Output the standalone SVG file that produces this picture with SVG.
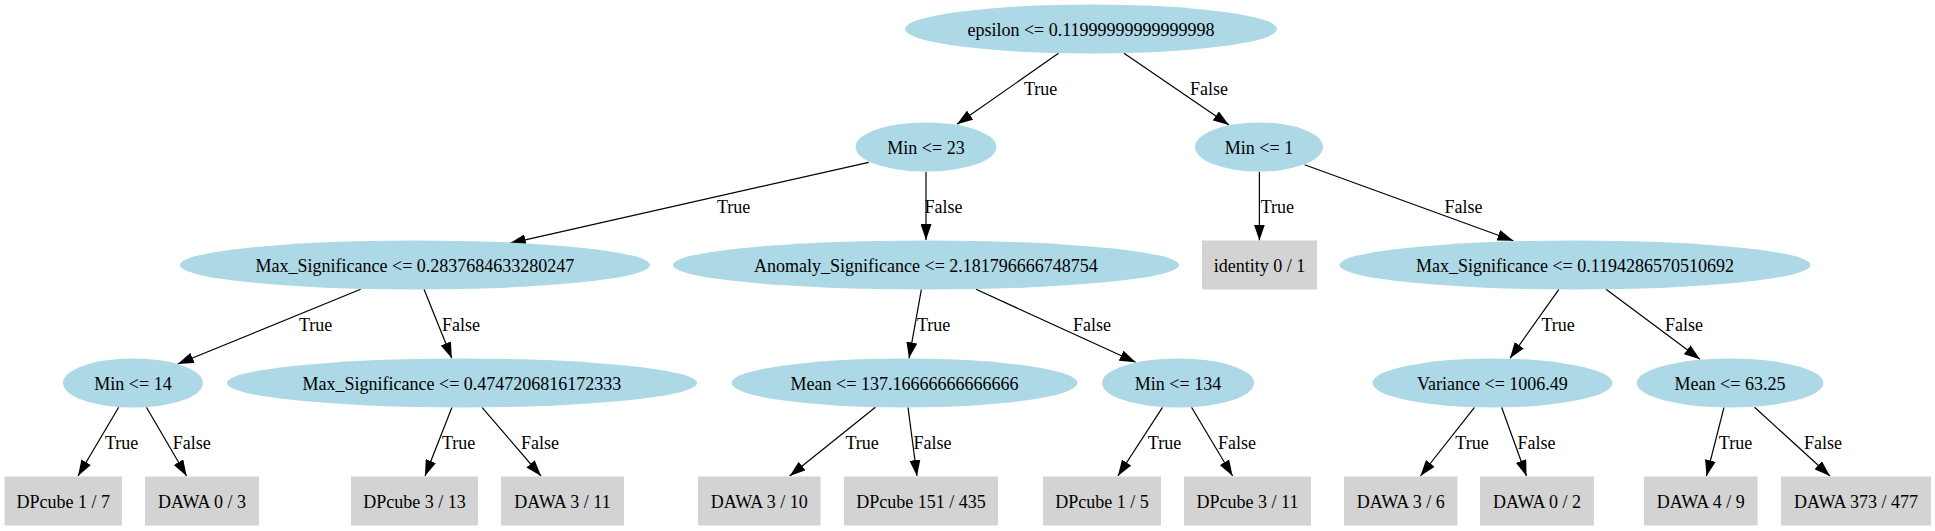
<svg xmlns="http://www.w3.org/2000/svg" width="1935" height="531" viewBox="0 0 1935 531">
<defs>
<marker id="arr" markerUnits="userSpaceOnUse" markerWidth="16" markerHeight="11" refX="16" refY="5.5" orient="auto">
<path d="M0,0 L16,5.5 L0,11 z" fill="#000"/>
</marker>
<style>
.n ellipse{fill:#ADD8E6;}
.n rect{fill:#D3D3D3;}
text{font-family:"Liberation Serif","Times New Roman",serif;font-size:18px;fill:#000;}
.n text{text-anchor:middle;}
#edges line{stroke:#000;stroke-width:1.2;fill:none;marker-end:url(#arr);}
</style>
</defs>
<rect width="1935" height="531" fill="#fff"/>
<g id="edges">
<line x1="1058.5" y1="53.3" x2="957" y2="124.3"/>
<line x1="1124" y1="53.3" x2="1229" y2="125"/>
<line x1="868.7" y1="162.3" x2="509.8" y2="243.3"/>
<line x1="926" y1="171.7" x2="926" y2="240"/>
<line x1="1259.4" y1="171.7" x2="1259.4" y2="240.5"/>
<line x1="1304.6" y1="164.7" x2="1513.4" y2="240.7"/>
<line x1="360.7" y1="289.3" x2="177.7" y2="364"/>
<line x1="424" y1="289.3" x2="451.8" y2="358.3"/>
<line x1="118.7" y1="407.3" x2="78" y2="476"/>
<line x1="146.4" y1="407.3" x2="186.6" y2="476"/>
<line x1="452" y1="407.3" x2="425" y2="476"/>
<line x1="482" y1="407.3" x2="541" y2="476"/>
<line x1="921.4" y1="289.3" x2="909" y2="358.3"/>
<line x1="976" y1="289.3" x2="1135.7" y2="362.3"/>
<line x1="875.4" y1="407.3" x2="789.7" y2="476"/>
<line x1="908" y1="407.3" x2="917" y2="476"/>
<line x1="1162.5" y1="407.3" x2="1117.9" y2="476"/>
<line x1="1191.5" y1="407.3" x2="1232.6" y2="476"/>
<line x1="1558.9" y1="289.3" x2="1510" y2="358.3"/>
<line x1="1606" y1="289.3" x2="1700" y2="359.3"/>
<line x1="1474.5" y1="407.3" x2="1420.4" y2="476"/>
<line x1="1501.6" y1="407.3" x2="1526.5" y2="476"/>
<line x1="1724" y1="407.3" x2="1706.5" y2="476"/>
<line x1="1754.6" y1="407.3" x2="1830" y2="476"/>
<text x="1024" y="95">True</text>
<text x="1190" y="95">False</text>
<text x="717" y="213">True</text>
<text x="924.5" y="213">False</text>
<text x="1260.7" y="213">True</text>
<text x="1444.4" y="213">False</text>
<text x="299" y="330.7">True</text>
<text x="442" y="330.7">False</text>
<text x="105" y="449">True</text>
<text x="172.8" y="449">False</text>
<text x="442" y="449">True</text>
<text x="521" y="449">False</text>
<text x="917" y="330.7">True</text>
<text x="1073" y="330.7">False</text>
<text x="845.5" y="449">True</text>
<text x="913.4" y="449">False</text>
<text x="1147.8" y="449">True</text>
<text x="1218" y="449">False</text>
<text x="1541.4" y="330.7">True</text>
<text x="1665" y="330.7">False</text>
<text x="1455.3" y="449">True</text>
<text x="1517.4" y="449">False</text>
<text x="1718.8" y="449">True</text>
<text x="1804" y="449">False</text>
</g>
<g id="n0" class="n"><ellipse cx="1091" cy="29" rx="186" ry="24.5"/><text x="1091" y="35.5">epsilon &lt;= 0.11999999999999998</text></g>
<g id="n1" class="n"><ellipse cx="926" cy="147" rx="70.5" ry="24.5"/><text x="926" y="153.5">Min &lt;= 23</text></g>
<g id="n2" class="n"><ellipse cx="1259" cy="147" rx="64" ry="24.5"/><text x="1259" y="153.5">Min &lt;= 1</text></g>
<g id="n3" class="n"><ellipse cx="415" cy="265" rx="235" ry="24.5"/><text x="415" y="271.5">Max_Significance &lt;= 0.2837684633280247</text></g>
<g id="n4" class="n"><ellipse cx="926" cy="265" rx="253" ry="24.5"/><text x="926" y="271.5">Anomaly_Significance &lt;= 2.181796666748754</text></g>
<g id="n5" class="n"><rect x="1202" y="240.5" width="115" height="49"/><text x="1259.5" y="271.5">identity 0 / 1</text></g>
<g id="n6" class="n"><ellipse cx="1575" cy="265" rx="235.5" ry="24.5"/><text x="1575" y="271.5">Max_Significance &lt;= 0.1194286570510692</text></g>
<g id="n7" class="n"><ellipse cx="133" cy="383" rx="70" ry="24.5"/><text x="133" y="389.5">Min &lt;= 14</text></g>
<g id="n8" class="n"><ellipse cx="462" cy="383" rx="235" ry="24.5"/><text x="462" y="389.5">Max_Significance &lt;= 0.4747206816172333</text></g>
<g id="n9" class="n"><ellipse cx="904.5" cy="383" rx="173" ry="24.5"/><text x="904.5" y="389.5">Mean &lt;= 137.16666666666666</text></g>
<g id="n10" class="n"><ellipse cx="1178" cy="383" rx="76" ry="24.5"/><text x="1178" y="389.5">Min &lt;= 134</text></g>
<g id="n11" class="n"><ellipse cx="1492.5" cy="383" rx="120" ry="24.5"/><text x="1492.5" y="389.5">Variance &lt;= 1006.49</text></g>
<g id="n12" class="n"><ellipse cx="1730" cy="383" rx="93.3" ry="24.5"/><text x="1730" y="389.5">Mean &lt;= 63.25</text></g>
<g id="n13" class="n"><rect x="4.5" y="476.5" width="117.5" height="49"/><text x="63.2" y="507.5">DPcube 1 / 7</text></g>
<g id="n14" class="n"><rect x="145" y="476.5" width="114" height="49"/><text x="202" y="507.5">DAWA 0 / 3</text></g>
<g id="n15" class="n"><rect x="351" y="476.5" width="127" height="49"/><text x="414.5" y="507.5">DPcube 3 / 13</text></g>
<g id="n16" class="n"><rect x="501" y="476.5" width="123" height="49"/><text x="562.5" y="507.5">DAWA 3 / 11</text></g>
<g id="n17" class="n"><rect x="698" y="476.5" width="122.5" height="49"/><text x="759.2" y="507.5">DAWA 3 / 10</text></g>
<g id="n18" class="n"><rect x="844" y="476.5" width="154" height="49"/><text x="921" y="507.5">DPcube 151 / 435</text></g>
<g id="n19" class="n"><rect x="1043" y="476.5" width="118" height="49"/><text x="1102" y="507.5">DPcube 1 / 5</text></g>
<g id="n20" class="n"><rect x="1184" y="476.5" width="127" height="49"/><text x="1247.5" y="507.5">DPcube 3 / 11</text></g>
<g id="n21" class="n"><rect x="1344" y="476.5" width="113.5" height="49"/><text x="1400.7" y="507.5">DAWA 3 / 6</text></g>
<g id="n22" class="n"><rect x="1480" y="476.5" width="114" height="49"/><text x="1537" y="507.5">DAWA 0 / 2</text></g>
<g id="n23" class="n"><rect x="1644" y="476.5" width="113.6" height="49"/><text x="1700.8" y="507.5">DAWA 4 / 9</text></g>
<g id="n24" class="n"><rect x="1781" y="476.5" width="150" height="49"/><text x="1856" y="507.5">DAWA 373 / 477</text></g>
</svg>
